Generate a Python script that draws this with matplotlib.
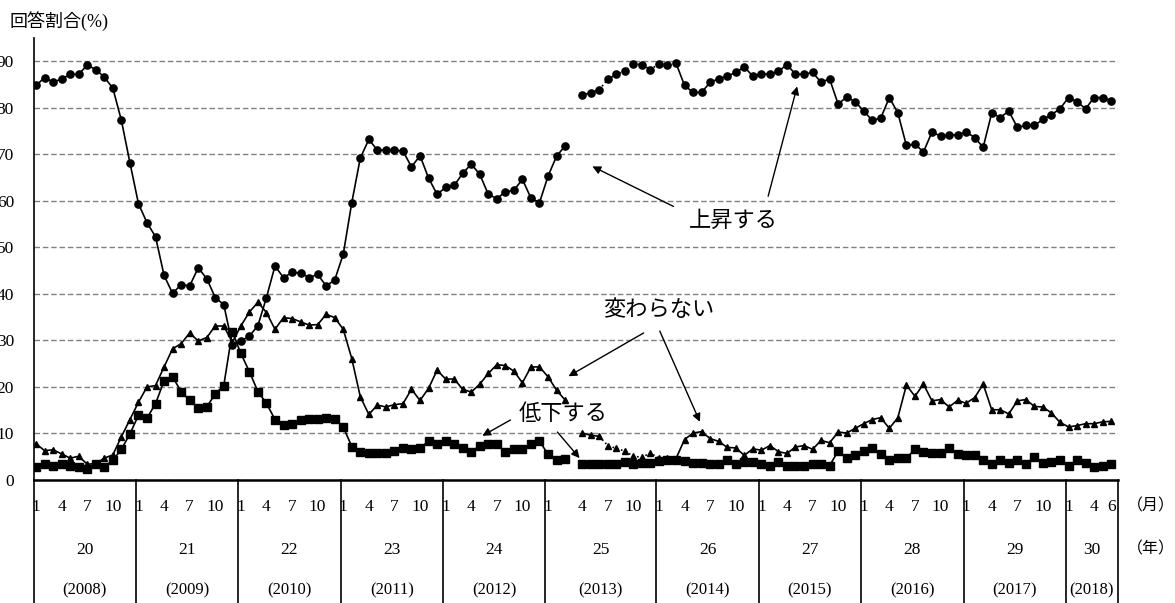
import matplotlib
matplotlib.use("Agg")
import matplotlib.pyplot as plt
import matplotlib.transforms as mtransforms
import numpy as np

plt.rcParams['font.family'] = ['Liberation Serif', 'Noto Sans CJK JP']

# 月次データ 2008年1月～2018年6月 (126か月), 1行 = 1年
joushou = [84.8, 86.5, 85.5, 86.2, 87.2, 87.2, 89.2, 88.2, 86.6, 84.2, 77.3, 68.2,
           59.4, 55.3, 52.3, 44.0, 40.1, 42.0, 41.7, 45.6, 43.3, 39.2, 37.7, 29.1,
           29.9, 30.9, 33.2, 39.2, 46.0, 43.5, 44.6, 44.5, 43.5, 44.2, 41.7, 43.0,
           48.5, 59.6, 69.2, 73.2, 70.9, 70.9, 70.9, 70.7, 67.3, 69.7, 64.9, 61.4,
           62.9, 63.3, 65.9, 67.9, 65.7, 61.4, 60.5, 61.9, 62.3, 64.6, 60.6, 59.6,
           65.3, 69.6, 71.8, 82.8, 83.2, 83.9, 86.1, 87.2, 87.9, 89.5, 89.3, 88.2,
           89.5, 89.1, 89.6, 84.8, 83.3, 83.3, 85.5, 86.2, 86.8, 87.6, 88.8, 86.8,
           87.3, 87.2, 87.8, 89.3, 87.2, 87.2, 87.6, 85.5, 86.2, 80.8, 82.3, 81.3,
           79.3, 77.3, 77.8, 82.2, 78.9, 71.9, 72.2, 70.5, 74.8, 73.9, 74.2, 74.2,
           74.8, 73.6, 71.5, 78.9, 77.9, 79.3, 75.8, 76.2, 76.2, 77.5, 78.5, 79.8,
           82.2, 81.3, 79.8, 82.2, 82.2, 81.5]
kawaranai = [7.8, 6.3, 6.5, 5.6, 4.7, 5.1, 3.4, 3.5, 4.7, 5.4, 9.3, 13.0,
             16.7, 20.0, 20.3, 24.3, 28.2, 29.3, 31.6, 29.9, 30.6, 33.1, 33.1, 29.6,
             33.1, 36.1, 38.2, 36.0, 32.4, 34.9, 34.7, 34.0, 33.3, 33.4, 35.6, 34.9,
             32.4, 26.1, 17.9, 14.1, 16.1, 15.7, 16.2, 16.4, 19.5, 17.1, 19.7, 23.6,
             21.7, 21.7, 19.5, 18.9, 20.6, 22.9, 24.8, 24.6, 23.4, 20.9, 24.3, 24.3,
             22.2, 19.3, 17.2, 10.1, 9.6, 9.4, 7.4, 6.8, 6.2, 5.1, 4.9, 5.8,
             4.7, 4.7, 4.6, 8.7, 10.1, 10.4, 8.9, 8.3, 7.0, 6.9, 5.3, 6.7,
             6.4, 7.4, 6.1, 5.7, 7.1, 7.4, 6.6, 8.5, 8.0, 10.3, 10.1, 11.1,
             12.1, 13.0, 13.4, 11.1, 13.4, 20.4, 18.0, 20.6, 17.0, 17.3, 15.7, 17.1,
             16.5, 17.7, 20.6, 15.1, 15.1, 14.2, 17.0, 17.3, 15.8, 15.7, 14.4, 12.4,
             11.4, 11.7, 12.1, 12.1, 12.5, 12.6]
teika = [2.9, 3.4, 3.1, 3.4, 3.1, 2.9, 2.4, 3.4, 2.9, 4.2, 6.6, 9.9,
         13.9, 13.3, 16.4, 21.3, 22.2, 19.0, 17.1, 15.5, 15.7, 18.5, 20.3, 31.9,
         27.2, 23.3, 19.0, 16.5, 13.0, 11.9, 12.1, 12.8, 13.1, 13.2, 13.3, 13.2,
         11.4, 7.2, 6.1, 5.8, 5.8, 5.8, 6.2, 6.8, 6.6, 6.8, 8.4, 7.8,
         8.4, 7.7, 6.9, 6.0, 7.4, 7.8, 7.7, 6.1, 6.6, 6.7, 7.7, 8.4,
         5.5, 4.2, 4.6, 3.4, 3.5, 3.4, 3.4, 3.4, 3.8, 3.5, 3.6, 3.7,
         4.0, 4.2, 4.2, 4.0, 3.6, 3.6, 3.4, 3.4, 4.2, 3.5, 3.8, 3.8,
         3.5, 3.1, 3.8, 3.1, 3.1, 3.1, 3.5, 3.5, 3.1, 6.2, 4.7, 5.3,
         6.2, 6.8, 5.5, 4.2, 4.7, 4.7, 6.6, 6.1, 5.8, 5.8, 6.8, 5.5,
         5.3, 5.3, 4.2, 3.4, 4.2, 3.6, 4.2, 3.4, 5.0, 3.6, 3.8, 4.2,
         3.1, 4.2, 3.6, 2.9, 3.1, 3.4]

nen_wareki = ['20', '21', '22', '23', '24', '25', '26', '27', '28', '29', '30']
nen_seireki = ['(2008)', '(2009)', '(2010)', '(2011)', '(2012)', '(2013)',
               '(2014)', '(2015)', '(2016)', '(2017)', '(2018)']
tsuki = [1, 4, 7, 10]
tsuki_2018 = [1, 4, 6]

# 2013年3月と4月の間に空白を1つ入れる(調査方法変更)
x = np.arange(len(joushou))
x[x >= 63] += 1

fig = plt.figure(figsize=(11.75, 6.03), dpi=100)
ax = fig.add_axes([33.5 / 1175, 123 / 603, (1118 - 33.5) / 1175, 442 / 603])
ax.set_xlim(-0.3, 126.8)
ax.set_ylim(0, 95)

# 線 (2013年7月～2014年3月は点線)
kukan = [(0, 63, '-'), (63, 66, '-'), (65, 75, ':'), (74, 126, '-')]
for vals in [joushou, kawaranai, teika]:
    v = np.array(vals)
    for a, b, ls in kukan:
        ax.plot(x[a:b], v[a:b], color='k', ls=ls, lw=1.2, zorder=3)

ax.plot(x, joushou, ls='none', marker='o', ms=5.2, color='k', zorder=4)
ax.plot(x, kawaranai, ls='none', marker='^', ms=5, color='k', zorder=4)
ax.plot(x, teika, ls='none', marker='s', ms=5.6, color='k', zorder=4)

ax.set_yticks(range(0, 91, 10))
ax.yaxis.grid(True, ls=(0, (4, 2)), color='#808080', lw=1)
ax.set_axisbelow(True)
ax.set_xticks([])
# 目盛ラベルは元の図と同じく左端で少し切れる位置
ax.tick_params(axis='y', length=0, pad=14, labelsize=12.5)
ax.spines['top'].set_visible(False)
ax.spines['right'].set_visible(False)
ax.spines['left'].set_linewidth(1.2)
ax.spines['bottom'].set_linewidth(1.8)

# 下の表 (月・年)
tr = mtransforms.blended_transform_factory(ax.transData, ax.transAxes)
for k in range(len(nen_wareki)):
    start = x[12 * k] - 0.3
    end = x[12 * (k + 1)] - 0.3 if k < len(nen_wareki) - 1 else 126.8
    ax.plot([start, start], [0, -0.28], color='k', lw=1.2, transform=tr, clip_on=False)
    m_list = tsuki_2018 if k == len(nen_wareki) - 1 else tsuki
    for m in m_list:
        ax.text(x[12 * k + m - 1], -0.061, str(m), ha='center', va='center',
                fontsize=12.5, transform=tr)
    ax.text((start + end) / 2, -0.158, nen_wareki[k], ha='center', va='center',
            fontsize=12.5, transform=tr)
    ax.text((start + end) / 2, -0.249, nen_seireki[k], ha='center', va='center',
            fontsize=12, transform=tr)
ax.plot([126.8, 126.8], [0, -0.28], color='k', lw=1.2, transform=tr, clip_on=False)
ax.text(130.7, -0.061, '（月）', ha='center', va='center', fontsize=11.5, transform=tr,
        clip_on=False)
ax.text(130.7, -0.158, '（年）', ha='center', va='center', fontsize=11.5, transform=tr,
        clip_on=False)

fig.text(10 / 1175, 1 - 21 / 603, '回答割合(%)', ha='left', va='center', fontsize=13)

# 注記と矢印
ya = dict(arrowstyle='-|>', color='k', lw=1, mutation_scale=12, shrinkA=0, shrinkB=0)
ax.text(81.7, 55.6, '上昇する', ha='center', va='center', fontsize=16)
ax.annotate('', xy=(65.2, 67.4), xytext=(74.7, 58.8), arrowprops=ya)
ax.annotate('', xy=(89.2, 84.6), xytext=(85.8, 61.0), arrowprops=ya)
ax.text(73.0, 36.3, '変わらない', ha='center', va='center', fontsize=16)
ax.annotate('', xy=(62.4, 22.3), xytext=(71.2, 31.6), arrowprops=ya)
ax.annotate('', xy=(77.8, 12.5), xytext=(73.1, 32.0), arrowprops=ya)
ax.text(61.8, 14.0, '低下する', ha='center', va='center', fontsize=16)
ax.annotate('', xy=(52.3, 9.5), xytext=(55.6, 12.9), arrowprops=ya)
ax.annotate('', xy=(63.7, 4.7), xytext=(61.1, 10.3), arrowprops=ya)

fig.savefig('out.png', dpi=100, facecolor='white')
